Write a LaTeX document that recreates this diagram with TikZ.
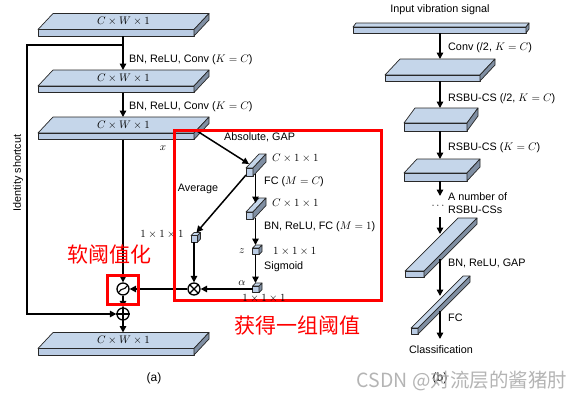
\documentclass[tikz,border=0pt]{standalone}
\usepackage[no-math]{fontspec}
\setmainfont{Liberation Sans}
\newfontfamily\cjk{Noto Sans CJK SC}
\usetikzlibrary{arrows.meta}
\definecolor{slabtop}{RGB}{197,214,234}
\definecolor{slabfront}{RGB}{186,204,228}
\definecolor{slabside}{RGB}{128,143,163}
\definecolor{slabedge}{RGB}{40,40,40}
\newcommand\myslab[6]{%
  \draw[slabline,fill=slabtop] (#1,#2) -- (#1+#3,#2) -- (#1+#3+#5,#2-#6) -- (#1+#5,#2-#6) -- cycle;
  \draw[slabline,fill=slabfront] (#1,#2) rectangle (#1+#3,#2+#4);
  \draw[slabline,fill=slabside] (#1+#3,#2) -- (#1+#3+#5,#2-#6) -- (#1+#3+#5,#2-#6+#4) -- (#1+#3,#2+#4) -- cycle;
}
\tikzset{
  slabline/.style={draw=slabedge,line width=0.7pt,line join=round},
  arr/.style={line width=1.5pt,-{Triangle[length=6.5pt,width=6.5pt]}},
  ln/.style={line width=1.5pt},
  lab/.style={font=\fontsize{10.8}{12}\selectfont,inner sep=0pt,anchor=west},
  clab/.style={font=\fontsize{10.8}{12}\selectfont,inner sep=0pt},
  opnode/.style={circle,draw,line width=1.3pt,minimum size=12pt,inner sep=0pt,fill=white},
  redbox/.style={draw=red,line width=3pt},
  redtext/.style={text=red,font=\cjk\fontsize{21}{22}\selectfont,inner sep=0pt},
}
\begin{document}
\begin{tikzpicture}[x=1pt,y=-1pt]
\useasboundingbox (0,0) rectangle (582,400);

% ---------------- panel (a) ----------------
\myslab{38}{29.5}{156}{6.5}{15}{16}
\myslab{38}{86}{156}{6.5}{15}{16}
\myslab{38}{133}{156}{6.5}{15}{16}
\myslab{38}{348.5}{156}{6.5}{15}{16}
\node[clab] (la1) at (123.5,21.5) {$C\times W\times 1$};
\node[clab] (la2) at (123.5,78) {$C\times W\times 1$};
\node[clab] (la3) at (123.5,125) {$C\times W\times 1$};
\node[clab] (la4) at (123.5,340.5) {$C\times W\times 1$};

\coordinate (a1b) at (123,36);
\coordinate (a2t) at (123,70);
\coordinate (a2b) at (123,92.5);
\coordinate (a3t) at (123,117);
\coordinate (a3b) at (123,139.5);
\coordinate (a4t) at (123,332.5);
\coordinate (br) at (123,45);
\coordinate (sc1) at (27,45);
\coordinate (sc2) at (27,314);

\node[opnode] (soft) at (123,289) {};
\draw[line width=1.1pt,rounded corners=1.2pt]
  ([shift={(-4.2,3.2)}]soft.center) -- ([shift={(-1.4,0)}]soft.center) --
  ([shift={(1.4,0)}]soft.center) -- ([shift={(4.2,-3.2)}]soft.center);
\node[opnode] (add) at (123,314) {};
\draw[line width=1.3pt] (add.north) -- (add.south) (add.west) -- (add.east);
\node[opnode] (mul) at (194,289) {};
\draw[line width=1.3pt] (mul.45) -- (mul.225) (mul.135) -- (mul.315);

\node[lab] (l1) at (129,60) {BN, ReLU, Conv ($K=C$)};
\node[lab] (l2) at (129,107) {BN, ReLU, Conv ($K=C$)};
\node[clab,rotate=90] (ids) at (18,173) {Identity shortcut};
\node[clab] (lx) at (163,148) {$x$};

\draw[arr] (a1b) -- (a2t);
\draw[arr] (a2b) -- (a3t);
\draw[arr] (br) -- (sc1) -- (sc2) -- (add.west);
\draw[arr] (a3b) -- (soft.north);
\draw[arr] (soft.south) -- (add.north);
\draw[arr] (add.south) -- (a4t);

% threshold sub-network
\myslab{246}{168}{7}{8}{13}{14}
\myslab{246}{212}{7}{7.5}{13}{14}
\myslab{191}{235.5}{6.5}{6.5}{3}{3}
\myslab{252.5}{248}{6.5}{6.5}{3}{3}
\myslab{252.5}{286}{6.5}{6.5}{3}{3}

\coordinate (a3r) at (197,131);
\coordinate (b1in) at (249,164);
\coordinate (b1avg) at (246,175);
\coordinate (b1bot) at (255.5,174);
\coordinate (b2top) at (255.5,203);
\coordinate (b2bot) at (255.5,218);
\coordinate (ztop) at (255.5,245);
\coordinate (zbot) at (255.5,254.5);
\coordinate (atop) at (255.5,283);
\coordinate (aleft) at (252.5,289);
\coordinate (avgtop) at (196.5,232.5);
\coordinate (avgbot) at (194,242);

\draw[arr] (a3r) -- (b1in);
\draw[arr] (b1avg) -- (avgtop);
\draw[arr] (b1bot) -- (b2top);
\draw[arr] (b2bot) -- (ztop);
\draw[arr] (zbot) -- (atop);
\draw[arr] (aleft) -- (mul.east);
\draw[arr] (avgbot) -- (mul.north);
\draw[arr] (mul.west) -- (soft.east);

\node[lab] (l3) at (224,137) {Absolute, GAP};
\node[lab] (l4) at (272,158) {$C\times 1\times 1$};
\node[lab] (l5) at (264,182) {FC ($M=C$)};
\node[lab] (l6) at (272,203) {$C\times 1\times 1$};
\node[lab] (l7) at (264,227) {BN, ReLU, FC ($M=1$)};
\node[lab] (l8) at (273,251) {$1\times 1\times 1$};
\node[lab] (l9) at (264,267) {Sigmoid};
\node[clab] (lz) at (242,251) {$z$};
\node[clab] (lal) at (242,283) {$\alpha$};
\node[clab] (lav) at (198,189) {Average};
\node[clab] (l10) at (162,234) {$1\times 1\times 1$};

\draw[redbox] (174,130) rectangle (381,300);
\draw[redbox] (107,275) rectangle (138,304);
\node[clab] (l11) at (264,298) {$1\times 1\times 1$};

\node[redtext] (rt1) at (109,255) {软阈值化};
\node[redtext] (rt2) at (297,326) {获得一组阈值};
\node[clab,font=\fontsize{12}{13}\selectfont] (pa) at (154,378) {(a)};

% ---------------- panel (b) ----------------
\myslab{353}{27}{173}{6}{3}{4}
\myslab{385}{75}{95}{6}{15}{16}
\myslab{404}{123}{63}{8}{11}{15}
\myslab{404}{173}{63}{8}{13}{14}
\myslab{405}{271}{19}{6}{53}{53}
\myslab{411}{328}{7}{6}{52}{52}

\coordinate (p0b) at (440,33);
\coordinate (p1t) at (440,59);
\coordinate (p1b) at (440,81);
\coordinate (p2t) at (440,108);
\coordinate (p2b) at (440,131);
\coordinate (p3t) at (440,159);
\coordinate (p3b) at (440,181);
\coordinate (pd1) at (440,196);
\coordinate (p4s) at (440,217);
\coordinate (p4t) at (440,234);
\coordinate (p4b) at (440,259);
\coordinate (p5t) at (440,296);
\coordinate (p5b) at (440,311);
\coordinate (pcl) at (440,339);

\draw[arr] (p0b) -- (p1t);
\draw[arr] (p1b) -- (p2t);
\draw[arr] (p2b) -- (p3t);
\draw[arr] (p3b) -- (pd1);
\draw[arr] (p4s) -- (p4t);
\draw[arr] (p4b) -- (p5t);
\draw[arr] (p5b) -- (pcl);

\node[clab] (r0) at (440,10) {Input vibration signal};
\node[lab] (r1) at (448,48) {Conv (/2, $K=C$)};
\node[lab] (r2) at (448,99) {RSBU-CS (/2, $K=C$)};
\node[lab] (r3) at (448,148) {RSBU-CS ($K=C$)};
\node[lab] (r4) at (448,197) {A number of};
\node[lab] (r5) at (448,210) {RSBU-CSs};
\node[clab] (rd) at (438,206) {$\cdots$};
\node[lab] (r6) at (448,263) {BN, ReLU, GAP};
\node[lab] (r7) at (448,318) {FC};
\node[clab] (r8) at (441,350) {Classification};
\node[clab,font=\fontsize{12}{13}\selectfont] (pb) at (440,378) {(b)};

\node[text=gray!65,opacity=0.9,font=\cjk\fontsize{19.5}{20}\selectfont,inner sep=0pt] (wm) at (462,381) {CSDN @对流层的酱猪肘};
\end{tikzpicture}
\end{document}
